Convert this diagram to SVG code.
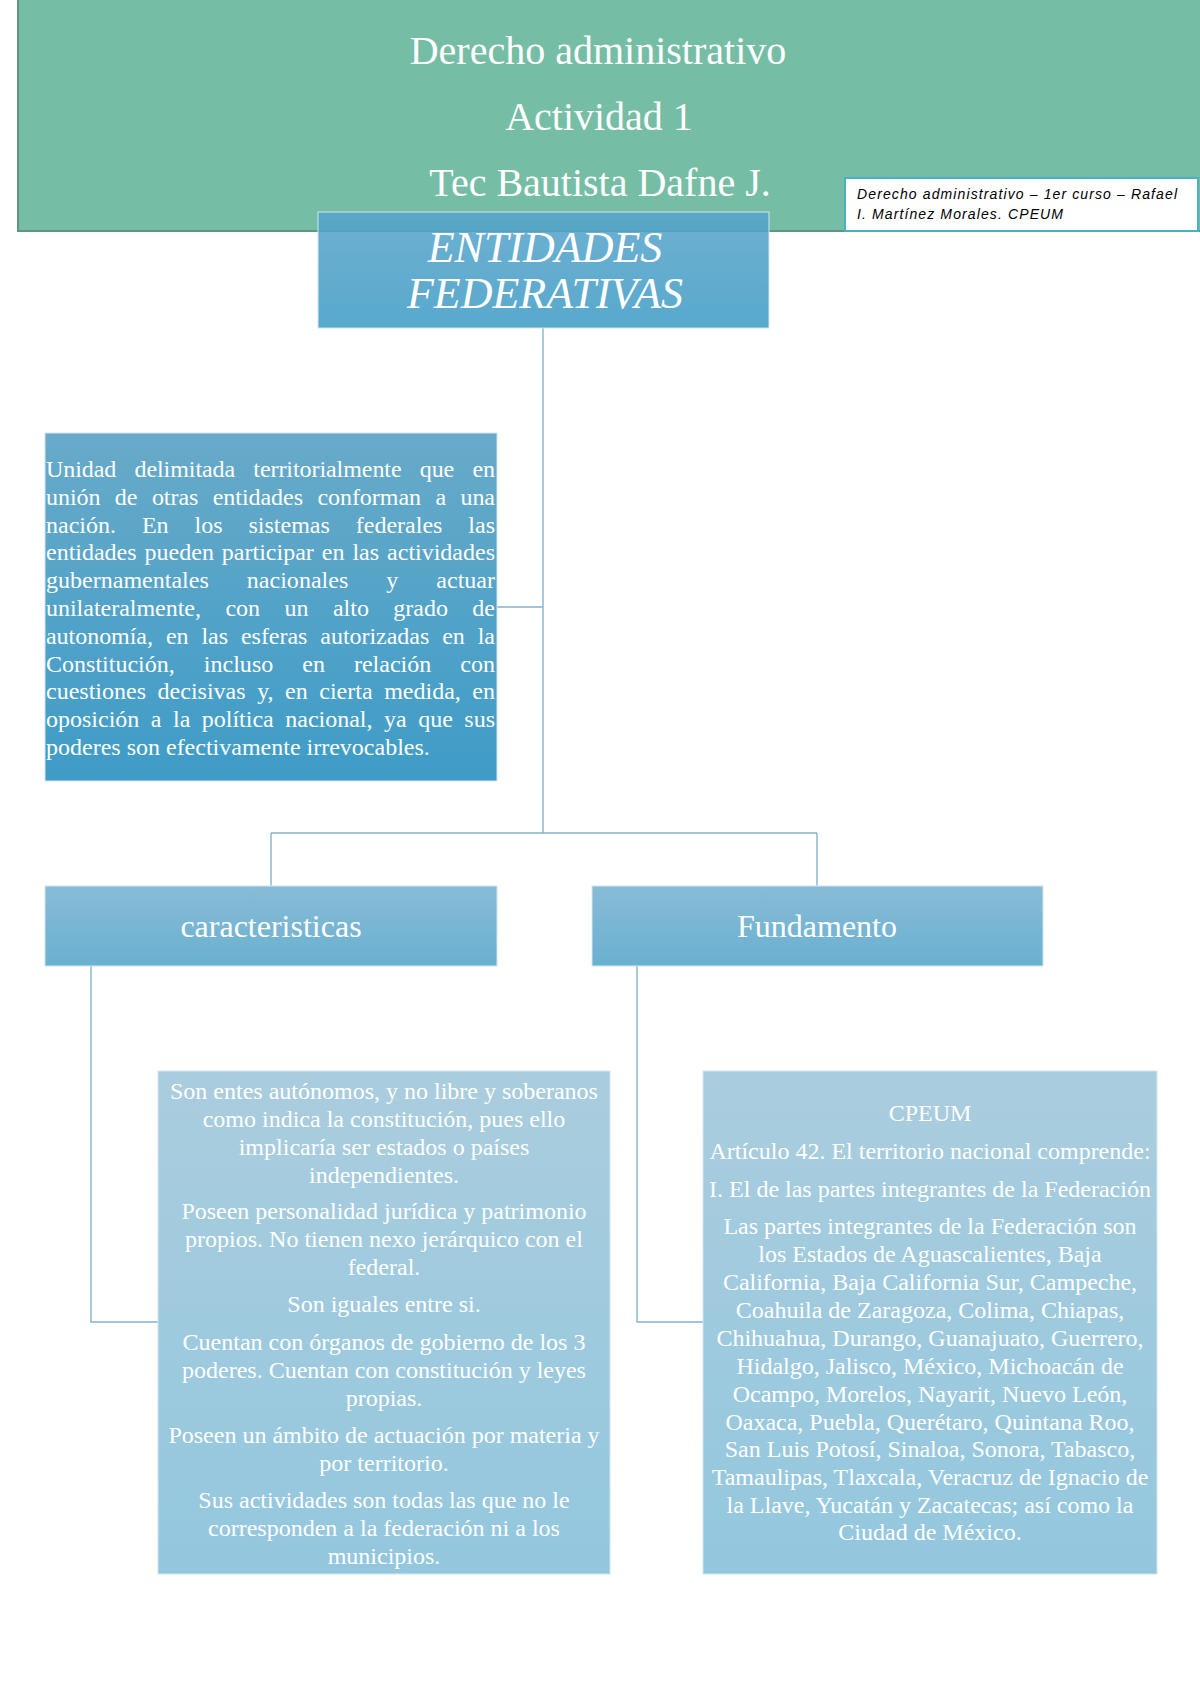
<svg xmlns="http://www.w3.org/2000/svg" width="1200" height="1698" viewBox="0 0 1200 1698">
<defs>
<linearGradient id="gTop" x1="0" y1="0" x2="0" y2="1"><stop offset="0" stop-color="#56A3CB"/><stop offset="1" stop-color="#3C9BC4"/></linearGradient>
<linearGradient id="gUni" x1="0" y1="0" x2="0" y2="1"><stop offset="0" stop-color="#68AAC9"/><stop offset="1" stop-color="#3E9CC7"/></linearGradient>
<linearGradient id="gMid" x1="0" y1="0" x2="0" y2="1"><stop offset="0" stop-color="#88BCD6"/><stop offset="1" stop-color="#69B0D0"/></linearGradient>
<linearGradient id="gDet" x1="0" y1="0" x2="0" y2="1"><stop offset="0" stop-color="#AACDDE"/><stop offset="1" stop-color="#93C7DE"/></linearGradient>
</defs>
<style>
.serif{font-family:"Liberation Serif","Times New Roman",serif;fill:#ffffff}
.body{font-size:24px}
.ctr{text-anchor:middle}
.conn{fill:none;stroke:#86B3CC;stroke-width:1.4}
.box{stroke:#D3E6EF;stroke-width:1}
</style>
<rect width="1200" height="1698" fill="#ffffff"/>

<g id="banner">
<rect x="18" y="-4" width="1190" height="235" fill="#76BDA6" stroke="#5E9583" stroke-width="2"/>
<text class="serif ctr" x="598" y="64" font-size="40">Derecho administrativo</text>
<text class="serif ctr" x="599" y="130" font-size="40">Actividad 1</text>
<text class="serif ctr" x="600" y="196" font-size="40">Tec Bautista Dafne J.</text>
</g>

<g id="source-note">
<rect x="845" y="178" width="353" height="53" fill="#ffffff" stroke="#4BAFC6" stroke-width="2"/>
<text x="857" y="199" font-family="Liberation Sans, Arial, sans-serif" font-style="italic" font-size="14" fill="#000000" textLength="320" lengthAdjust="spacing">Derecho administrativo – 1er curso – Rafael</text>
<text x="857" y="219" font-family="Liberation Sans, Arial, sans-serif" font-style="italic" font-size="14" fill="#000000" textLength="206" lengthAdjust="spacing">I. Martínez Morales. CPEUM</text>
</g>

<g id="connectors">
<path class="conn" d="M543 328 V833"/>
<path class="conn" d="M543 607 H497"/>
<path class="conn" d="M271 833 H817"/>
<path class="conn" d="M271 833 V886"/>
<path class="conn" d="M817 833 V886"/>
<path class="conn" d="M91 966 V1322 H158"/>
<path class="conn" d="M637 966 V1322 H703"/>
</g>

<g id="entidades">
<rect x="318" y="212" width="451" height="116" fill="url(#gTop)" fill-opacity="0.86" class="box"/>
<text class="serif ctr" x="545" y="262" font-size="44" font-style="italic">ENTIDADES</text>
<text class="serif ctr" x="545" y="308" font-size="44" font-style="italic">FEDERATIVAS</text>
</g>

<g id="definicion">
<rect x="45" y="433" width="452" height="348" fill="url(#gUni)" class="box"/>
<g class="serif body">
<text x="46" y="477" word-spacing="12.3" textLength="449" lengthAdjust="spacing">Unidad delimitada territorialmente que en</text>
<text x="46" y="504.8" word-spacing="8.5" textLength="449" lengthAdjust="spacing">unión de otras entidades conforman a una</text>
<text x="46" y="532.6" word-spacing="20" textLength="449" lengthAdjust="spacing">nación. En los sistemas federales las</text>
<text x="46" y="560.4" word-spacing="2" textLength="449" lengthAdjust="spacing">entidades pueden participar en las actividades</text>
<text x="46" y="588.2" word-spacing="32" textLength="449" lengthAdjust="spacing">gubernamentales nacionales y actuar</text>
<text x="46" y="616" word-spacing="18.5" textLength="449" lengthAdjust="spacing">unilateralmente, con un alto grado de</text>
<text x="46" y="643.8" word-spacing="7" textLength="449" lengthAdjust="spacing">autonomía, en las esferas autorizadas en la</text>
<text x="46" y="671.6" word-spacing="23" textLength="449" lengthAdjust="spacing">Constitución, incluso en relación con</text>
<text x="46" y="699.4" word-spacing="5.5" textLength="449" lengthAdjust="spacing">cuestiones decisivas y, en cierta medida, en</text>
<text x="46" y="727.2" word-spacing="5.5" textLength="449" lengthAdjust="spacing">oposición a la política nacional, ya que sus</text>
<text x="46" y="755">poderes son efectivamente irrevocables.</text>
</g>
</g>

<g id="caracteristicas">
<rect x="45" y="886" width="452" height="80" fill="url(#gMid)" class="box"/>
<text class="serif ctr" x="271" y="937" font-size="32">caracteristicas</text>
</g>

<g id="fundamento">
<rect x="592" y="886" width="451" height="80" fill="url(#gMid)" class="box"/>
<text class="serif ctr" x="817" y="937" font-size="32">Fundamento</text>
</g>

<g id="caracteristicas-detalle">
<rect x="158" y="1071" width="452" height="503" fill="url(#gDet)" class="box"/>
<g class="serif body ctr">
<text x="384" y="1099">Son entes autónomos, y no libre y soberanos</text>
<text x="384" y="1127">como indica la constitución, pues ello</text>
<text x="384" y="1155">implicaría ser estados o países</text>
<text x="384" y="1183">independientes.</text>
<text x="384" y="1219">Poseen personalidad jurídica y patrimonio</text>
<text x="384" y="1247">propios. No tienen nexo jerárquico con el</text>
<text x="384" y="1275">federal.</text>
<text x="384" y="1312">Son iguales entre si.</text>
<text x="384" y="1350">Cuentan con órganos de gobierno de los 3</text>
<text x="384" y="1378">poderes. Cuentan con constitución y leyes</text>
<text x="384" y="1406">propias.</text>
<text x="384" y="1443">Poseen un ámbito de actuación por materia y</text>
<text x="384" y="1471">por territorio.</text>
<text x="384" y="1508">Sus actividades son todas las que no le</text>
<text x="384" y="1536">corresponden a la federación ni a los</text>
<text x="384" y="1564">municipios.</text>
</g>
</g>

<g id="fundamento-detalle">
<rect x="703" y="1071" width="454" height="503" fill="url(#gDet)" class="box"/>
<g class="serif body ctr">
<text x="930" y="1121">CPEUM</text>
<text x="930" y="1159">Artículo 42. El territorio nacional comprende:</text>
<text x="930" y="1197">I. El de las partes integrantes de la Federación</text>
<text x="930" y="1234">Las partes integrantes de la Federación son</text>
<text x="930" y="1262">los Estados de Aguascalientes, Baja</text>
<text x="930" y="1290">California, Baja California Sur, Campeche,</text>
<text x="930" y="1318">Coahuila de Zaragoza, Colima, Chiapas,</text>
<text x="930" y="1346">Chihuahua, Durango, Guanajuato, Guerrero,</text>
<text x="930" y="1374">Hidalgo, Jalisco, México, Michoacán de</text>
<text x="930" y="1402">Ocampo, Morelos, Nayarit, Nuevo León,</text>
<text x="930" y="1430">Oaxaca, Puebla, Querétaro, Quintana Roo,</text>
<text x="930" y="1457">San Luis Potosí, Sinaloa, Sonora, Tabasco,</text>
<text x="930" y="1485">Tamaulipas, Tlaxcala, Veracruz de Ignacio de</text>
<text x="930" y="1513">la Llave, Yucatán y Zacatecas; así como la</text>
<text x="930" y="1540">Ciudad de México.</text>
</g>
</g>
</svg>
